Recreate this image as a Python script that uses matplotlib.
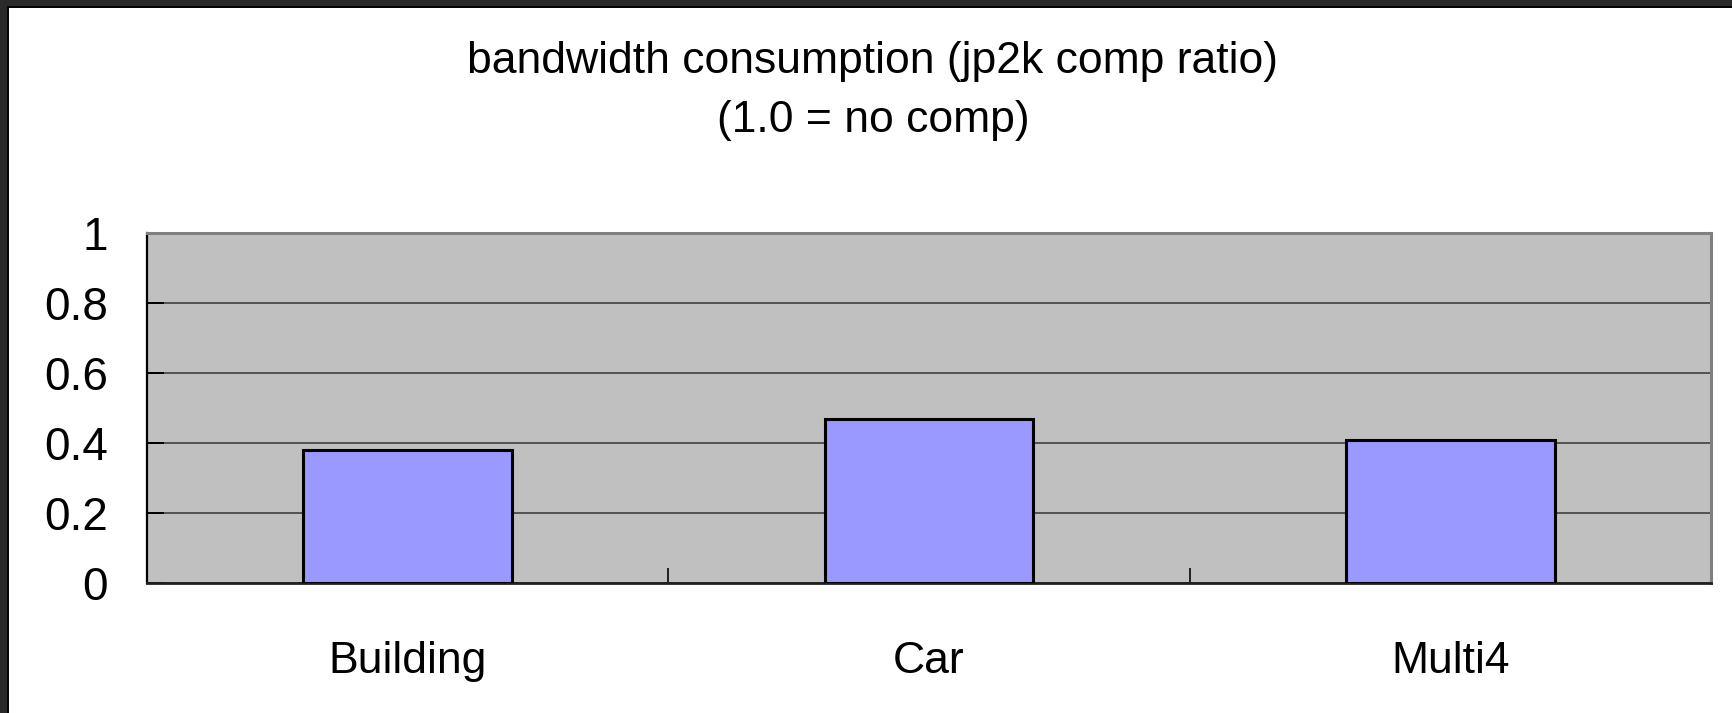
import matplotlib.pyplot as plt
from matplotlib.patches import Rectangle

# ----------------------------
# Data
# ----------------------------
categories = ["Building", "Car", "Multi4"]
comp_ratio = [0.38, 0.47, 0.41]
y_ticks = [0, 0.2, 0.4, 0.6, 0.8, 1.0]
y_tick_labels = ["0", "0.2", "0.4", "0.6", "0.8", "1"]

plt.rcParams['font.family'] = ['Liberation Sans', 'DejaVu Sans']

W, H = 1733, 713
fig = plt.figure(figsize=(W / 100, H / 100), dpi=100, facecolor="white")

# dark window edge along top and left
fig.patches.append(Rectangle((0, 1 - 7 / H), 1, 7 / H, transform=fig.transFigure,
                             facecolor="#2a2a2a", edgecolor="none", zorder=0))
fig.patches.append(Rectangle((0, 0), 9 / W, 1, transform=fig.transFigure,
                             facecolor="#2a2a2a", edgecolor="none", zorder=0))
fig.patches.append(Rectangle((7 / W, 0), 2 / W, 1 - 7 / H, transform=fig.transFigure,
                             facecolor="#050505", edgecolor="none", zorder=0))
fig.patches.append(Rectangle((7 / W, 1 - 8 / H), 1, 2 / H, transform=fig.transFigure,
                             facecolor="#050505", edgecolor="none", zorder=0))

ax = fig.add_axes([147 / W, 130 / H, (1711 - 147) / W, 350 / H])
ax.set_facecolor("#c0c0c0")

x = list(range(len(categories)))
ax.bar(x, comp_ratio, width=0.4, color="#9999ff", edgecolor="black",
       linewidth=2.2, zorder=3)

ax.set_xlim(-0.5, len(categories) - 0.5)
ax.set_ylim(0, 1)

ax.set_yticks(y_ticks)
ax.set_yticklabels(y_tick_labels, fontsize=33)
ax.tick_params(axis="y", direction="in", length=12, width=1.4, color="black", pad=28)

ax.set_xticks(x)
ax.set_xticklabels(categories, fontsize=32)
ax.tick_params(axis="x", which="major", length=0, pad=42)
ax.set_xticks([i + 0.5 for i in range(len(categories))], minor=True)
ax.tick_params(axis="x", which="minor", direction="in", length=11, width=1.4,
               color="#202020")

ax.yaxis.grid(True, color="#404040", linewidth=1.2, zorder=1)
ax.set_axisbelow(True)

ax.spines["left"].set_color("black")
ax.spines["left"].set_linewidth(1.6)
ax.spines["bottom"].set_color("#202020")
ax.spines["bottom"].set_linewidth(2)
for side in ("top", "right"):
    ax.spines[side].set_color("#808080")
    ax.spines[side].set_linewidth(2.2)

fig.text(873 / W, 1 - 91 / H, "bandwidth consumption (jp2k comp ratio)\n(1.0 = no comp)",
         ha="center", va="center", fontsize=32, linespacing=1.55)

fig.savefig("out.png", dpi=100, facecolor=fig.get_facecolor())
